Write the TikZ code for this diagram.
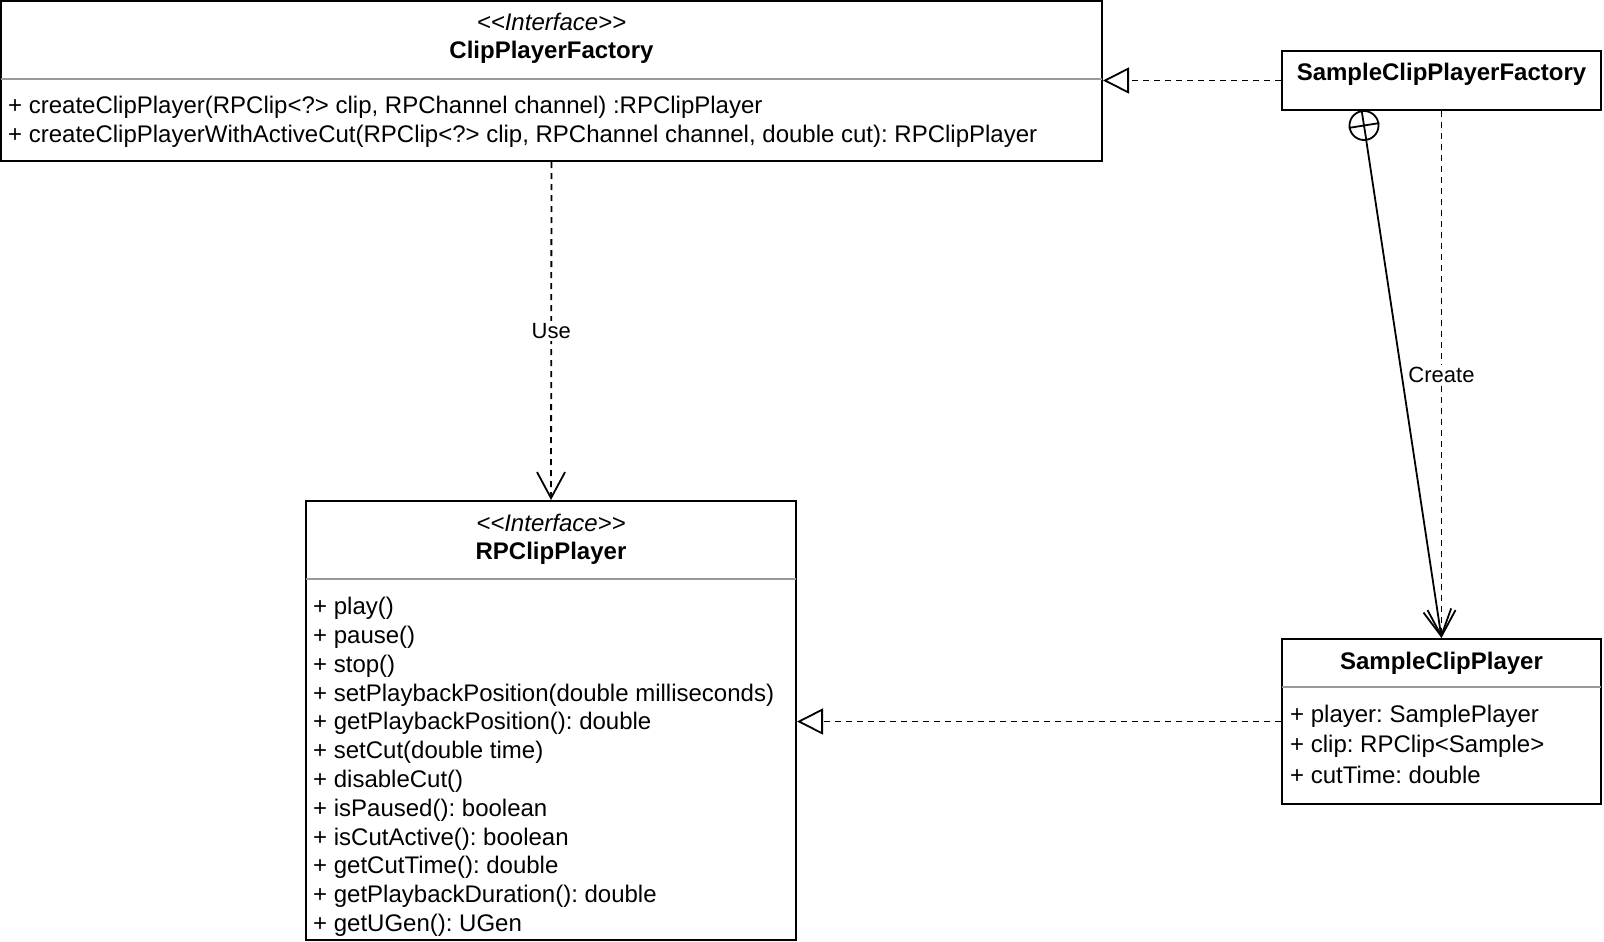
\documentclass[tikz,border=0pt]{standalone}
\usepackage{fontspec}
\setmainfont{Liberation Sans}
\frenchspacing
\usetikzlibrary{arrows.meta}
\tikzset{
  umlbox/.style={draw, line width=2pt, inner sep=0pt},
  divider/.style={draw=black!40, line width=1.5pt},
  member/.style={anchor=west, inner sep=0pt, font=\fontsize{24}{28.8}\selectfont},
  classname/.style={inner sep=0pt, font=\fontsize{24}{28.8}\selectfont\bfseries},
  stereo/.style={inner sep=0pt, font=\fontsize{24}{28.8}\selectfont\itshape},
  realize/.style={line width=1.8pt, dash pattern=on 6pt off 5pt, -{Triangle[open, length=26pt, width=26pt]}},
  depend/.style={line width=1.8pt, dash pattern=on 6pt off 5pt, -{Straight Barb[length=26pt, width=28pt]}},
  nestline/.style={line width=1.8pt, -{Straight Barb[length=26pt, width=28pt]}},
  edgelabel/.style={fill=white, inner sep=2pt, font=\fontsize{22}{26}\selectfont},
}
\begin{document}
\begin{tikzpicture}[x=1pt,y=-1pt]
\useasboundingbox (0,0) rectangle (1604,942);

% ClipPlayerFactory
\node[umlbox, minimum width=1101pt, minimum height=160pt] (cpf) at (551.5,81) {};
\node[stereo] (cpfst) at (551.5,22) {<{}<Interface>{}>};
\node[classname] (cpfname) at (551.5,52) {ClipPlayerFactory};
\draw[divider] (1,79) -- (1102,79);
\node[member] (cpfm1) at (8,107.5) {+ createClipPlayer(RPClip<?> clip, RPChannel channel) :RPClipPlayer};
\node[member] (cpfm2) at (8,136) {+ createClipPlayerWithActiveCut(RPClip<?> clip, RPChannel channel, double cut): RPClipPlayer};

% SampleClipPlayerFactory
\node[umlbox, minimum width=319pt, minimum height=59pt] (scpf) at (1441.5,80.5) {};
\node[classname] (scpfname) at (1441.5,74.5) {SampleClipPlayerFactory};

% RPClipPlayer
\node[umlbox, minimum width=490pt, minimum height=439pt] (rpcp) at (551,720.5) {};
\node[stereo] (rpcpst) at (551,523) {<{}<Interface>{}>};
\node[classname] (rpcpname) at (551,553) {RPClipPlayer};
\draw[divider] (306,579) -- (796,579);
\foreach \txt [count=\i] in {+ play(), + pause(), + stop(),
    + setPlaybackPosition(double milliseconds), + getPlaybackPosition(): double,
    + setCut(double time), + disableCut(), + isPaused(): boolean,
    + isCutActive(): boolean, + getCutTime(): double,
    + getPlaybackDuration(): double, + getUGen(): UGen}
  \node[member] (rpm\i) at (313,579.6+28.8*\i) {\txt};

% SampleClipPlayer
\node[umlbox, minimum width=319pt, minimum height=165pt] (scp) at (1441.5,721.5) {};
\node[classname] (scpname) at (1441.5,663) {SampleClipPlayer};
\draw[divider] (1282,687) -- (1601,687);
\node[member] (scpm1) at (1290,716.5) {+ player: SamplePlayer};
\node[member] (scpm2) at (1290,746) {+ clip: RPClip<Sample>};
\node[member] (scpm3) at (1290,774.5) {+ cutTime: double};

% relations
\draw[realize] (scpf.west) -- (scpf.west -| cpf.east);
\draw[realize] (scp.west) -- (scp.west -| rpcp.east);
\draw[depend] (cpf.south) -- node[edgelabel] (use) {Use} (rpcp.north);
\draw[depend] (scpf.south) -- node[edgelabel] (create) {Create} (scp.north);

% nesting
\node[draw, circle, line width=1.8pt, minimum size=29pt, inner sep=0pt, rotate=9] (nest) at (1364,125.5) {};
\draw[line width=1.8pt] (nest.north) -- (nest.south) (nest.west) -- (nest.east);
\draw[nestline] (nest) -- (scp.north);
\end{tikzpicture}
\end{document}
